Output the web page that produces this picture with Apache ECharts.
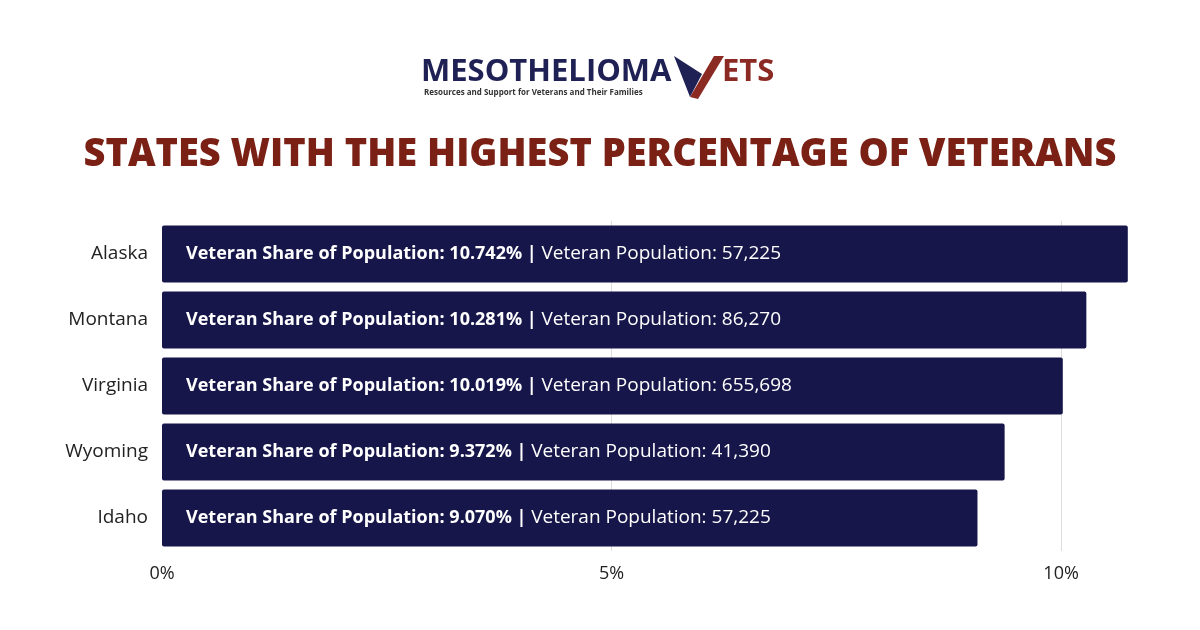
<!DOCTYPE html><html><head><meta charset="utf-8">
<script src="https://cdn.jsdelivr.net/npm/echarts@6/dist/echarts.min.js"></script>
<style>html,body{margin:0;background:#fff}#c{width:1200px;height:630px}</style></head><body><div id="c"></div>
<script>
const states=['Alaska','Montana','Virginia','Wyoming','Idaho'];
const shares=[10.742,10.281,10.019,9.372,9.070];
const pops=['57,225','86,270','655,698','41,390','57,225'];
const ticks=[0,5,10];
const chart=echarts.init(document.getElementById('c'));
chart.setOption({
 backgroundColor:'#fff',
 graphic:[
  {type:'text',left:421,top:57,style:{text:'MESOTHELIOMA',font:'bold 31px "Open Sans", sans-serif',fill:'#1f2155'}},
  {type:'polygon',shape:{points:[[674,56],[702,74],[690,97]]},style:{fill:'#1f2155'}},
  {type:'polygon',shape:{points:[[690,97],[714,56],[724,56],[698,99]]},style:{fill:'#8b2a22'}},
  {type:'text',left:722,top:57,style:{text:'ETS',font:'bold 31px "Open Sans", sans-serif',fill:'#8b2a22'}},
  {type:'text',left:424,top:89,style:{text:'Resources and Support for Veterans and Their Families',font:'bold 8px "Open Sans", sans-serif',fill:'#333'}},
  {type:'text',left:'center',top:136,style:{text:'STATES WITH THE HIGHEST PERCENTAGE OF VETERANS',font:'900 38px "Open Sans", sans-serif',fill:'#7a2015'}}
 ],
 grid:{left:162,right:49,top:221,bottom:79},
 xAxis:{type:'value',min:0,max:11,interval:5,
  axisLabel:{formatter:v=>ticks.includes(v)?v+'%':'',color:'#222',fontSize:18,fontFamily:'Open Sans',margin:14},
  splitLine:{lineStyle:{color:['transparent','#ddd','#ddd','transparent']}},axisLine:{show:false},axisTick:{show:false}},
 yAxis:{type:'category',data:states,inverse:true,
  axisLabel:{color:'#222',fontSize:19,fontFamily:'Open Sans',margin:14},
  axisLine:{show:false},axisTick:{show:false}},
 series:[{type:'bar',data:shares,barWidth:57,itemStyle:{color:'#16164a',borderRadius:2},
  label:{show:true,position:'insideLeft',distance:24,
   formatter:p=>'{b|Veteran Share of Population: '+p.value.toFixed(3)+'% | }{n|Veteran Population: '+pops[p.dataIndex]+'}',
   rich:{b:{color:'#fff',fontWeight:'bold',fontSize:18,fontFamily:'Open Sans'},n:{color:'#fff',fontSize:19,fontFamily:'Open Sans'}}}}]
});
</script></body></html>
